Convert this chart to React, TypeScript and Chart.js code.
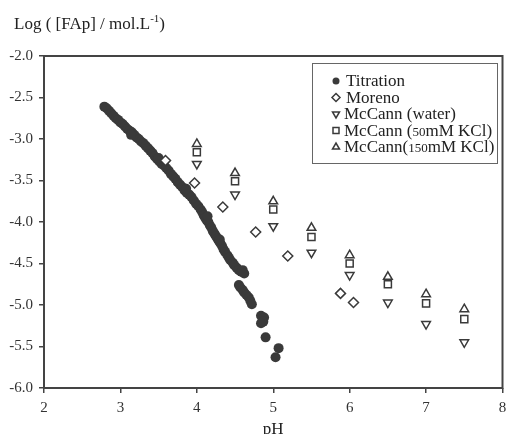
import React, { useEffect, useRef } from "react";
import { Chart, registerables } from "chart.js";

Chart.register(...registerables);

// ---- data ----
const titrationPH = [
  2.79, 2.82, 2.85, 2.88, 2.91, 2.94, 2.97, 3.0, 3.03, 3.06, 3.09, 3.12, 3.15, 3.18, 3.21, 3.24,
  3.27, 3.3, 3.33, 3.36, 3.39, 3.42, 3.45, 3.48, 3.51, 3.54, 3.57, 3.6, 3.63, 3.66, 3.69, 3.72,
  3.75, 3.78, 3.81, 3.84, 3.87, 3.9, 3.93, 3.96, 3.99, 4.02, 4.05, 4.07, 4.09, 4.11, 4.13, 4.15,
  4.17, 4.19, 4.21, 4.23, 4.25, 4.27, 4.29, 4.31, 4.33, 4.35, 4.37, 4.4, 4.42, 4.44, 4.47, 4.49,
  4.52, 4.55, 4.58, 4.6, 4.62, 4.55, 4.57, 4.6, 4.62, 4.65, 4.68, 4.7, 4.72, 4.84, 4.88, 4.87,
  4.84, 4.9, 5.07, 5.03, 3.14, 3.5, 3.86, 4.14, 4.3,
];
const titrationLog = [
  -2.61, -2.63, -2.66, -2.69, -2.72, -2.75, -2.77, -2.8, -2.82, -2.85, -2.88, -2.9, -2.92, -2.95,
  -2.98, -3.0, -3.03, -3.05, -3.08, -3.11, -3.14, -3.17, -3.21, -3.24, -3.27, -3.3, -3.32, -3.35,
  -3.38, -3.42, -3.45, -3.48, -3.52, -3.55, -3.58, -3.62, -3.65, -3.67, -3.7, -3.74, -3.78, -3.81,
  -3.85, -3.88, -3.92, -3.95, -3.98, -4.0, -4.04, -4.07, -4.11, -4.14, -4.17, -4.2, -4.23, -4.26,
  -4.29, -4.33, -4.36, -4.4, -4.43, -4.46, -4.49, -4.52, -4.55, -4.58, -4.6, -4.58, -4.62, -4.76,
  -4.79, -4.82, -4.85, -4.88, -4.91, -4.95, -4.99, -5.13, -5.15, -5.2, -5.22, -5.39, -5.52, -5.63,
  -2.95, -3.23, -3.6, -3.93, -4.21,
];

const morenoPH = [3.59, 3.97, 4.34, 4.77, 5.19, 5.88, 6.05];
const morenoLog = [-3.26, -3.53, -3.82, -4.12, -4.41, -4.86, -4.97];

const mccannPH = [4, 4.5, 5, 5.5, 6, 6.5, 7, 7.5];
const mccannWaterLog = [-3.3, -3.67, -4.05, -4.37, -4.64, -4.97, -5.23, -5.45];
const mccann50Log = [-3.16, -3.51, -3.85, -4.18, -4.5, -4.75, -4.98, -5.17];
const mccann150Log = [-3.06, -3.41, -3.75, -4.07, -4.4, -4.66, -4.87, -5.05];

const xTicks = [2, 3, 4, 5, 6, 7, 8];
const yTicks = [-2.0, -2.5, -3.0, -3.5, -4.0, -4.5, -5.0, -5.5, -6.0];

const seriesLabels = [
  "Titration",
  "Moreno",
  "McCann (water)",
  "McCann (50mM KCl)",
  "McCann(150mM KCl)",
];

// ---- style ----
const INK = "#3a3a3a";
const AXIS = "#444444";
const SERIF = "'Liberation Serif', 'Times New Roman', serif";

type Run = { t: string; size: number; dy?: number };

function drawRuns(ctx: CanvasRenderingContext2D, runs: Run[], x: number, y: number) {
  let cx = x;
  for (const r of runs) {
    ctx.font = `${r.size}px ${SERIF}`;
    ctx.fillText(r.t, cx, y + (r.dy || 0));
    cx += ctx.measureText(r.t).width;
  }
}

function drawMarker(
  ctx: CanvasRenderingContext2D,
  kind: string,
  x: number,
  y: number,
  r: number
) {
  ctx.beginPath();
  if (kind === "circle") {
    ctx.arc(x, y, r, 0, Math.PI * 2);
    ctx.fillStyle = INK;
    ctx.fill();
    return;
  }
  if (kind === "diamond") {
    ctx.moveTo(x, y - r);
    ctx.lineTo(x + r, y);
    ctx.lineTo(x, y + r);
    ctx.lineTo(x - r, y);
  } else if (kind === "down") {
    ctx.moveTo(x - r * 0.87, y - r * 0.5);
    ctx.lineTo(x + r * 0.87, y - r * 0.5);
    ctx.lineTo(x, y + r);
  } else if (kind === "up") {
    ctx.moveTo(x - r * 0.87, y + r * 0.5);
    ctx.lineTo(x + r * 0.87, y + r * 0.5);
    ctx.lineTo(x, y - r);
  } else if (kind === "square") {
    const s = r * 0.75;
    ctx.rect(x - s, y - s, 2 * s, 2 * s);
  }
  ctx.closePath();
  ctx.fillStyle = "#fff";
  ctx.fill();
  ctx.strokeStyle = INK;
  ctx.lineWidth = 1.5;
  ctx.stroke();
}

const overlayPlugin = {
  id: "overlay",
  afterDraw(chart: any) {
    const { ctx, chartArea: a } = chart;
    ctx.save();
    // frame
    ctx.strokeStyle = AXIS;
    ctx.lineWidth = 2;
    ctx.strokeRect(a.left, a.top, a.right - a.left, a.bottom - a.top);

    // y-axis title (top-left)
    ctx.fillStyle = "#222";
    ctx.textBaseline = "alphabetic";
    ctx.textAlign = "left";
    drawRuns(
      ctx,
      [
        { t: "Log ( [FAp] / mol.L", size: 17 },
        { t: "-1", size: 11, dy: -7 },
        { t: ")", size: 17 },
      ],
      14,
      29
    );

    // x-axis title
    ctx.font = `17px ${SERIF}`;
    ctx.textAlign = "center";
    ctx.fillText("pH", (a.left + a.right) / 2, 434);

    // legend
    ctx.lineWidth = 1;
    ctx.strokeStyle = "#666";
    ctx.strokeRect(312.5, 63.5, 185, 100);
    ctx.textAlign = "left";
    ctx.fillStyle = "#222";
    const kinds = ["circle", "diamond", "down", "square", "up"];
    const baselines = [86, 102.5, 119, 135.5, 152];
    const texts: Run[][] = [
      [{ t: seriesLabels[0], size: 17 }],
      [{ t: seriesLabels[1], size: 17 }],
      [{ t: seriesLabels[2], size: 17 }],
      [
        { t: "McCann (", size: 17 },
        { t: "50", size: 13 },
        { t: "mM KCl)", size: 17 },
      ],
      [
        { t: "McCann(", size: 17 },
        { t: "150", size: 13 },
        { t: "mM KCl)", size: 17 },
      ],
    ];
    kinds.forEach((k, i) => {
      const cy = baselines[i] - 5;
      drawMarker(ctx, k, 336, cy, k === "circle" ? 3.5 : 4);
      ctx.fillStyle = "#222";
      drawRuns(ctx, texts[i], k === "circle" || k === "diamond" ? 346 : 344, baselines[i]);
    });
    ctx.restore();
  },
};

export default function App() {
  const ref = useRef<HTMLCanvasElement>(null);

  useEffect(() => {
    if (!ref.current) return;
    const pts = (xs: number[], ys: number[]) => xs.map((x, i) => ({ x, y: ys[i] }));
    const hollow = {
      backgroundColor: "#ffffff",
      borderColor: INK,
      pointBorderWidth: 1.5,
      showLine: false,
    };
    const chart = new Chart(ref.current, {
      type: "scatter",
      data: {
        datasets: [
          {
            label: seriesLabels[1],
            data: pts(morenoPH, morenoLog),
            pointStyle: "rectRot",
            pointRadius: 5,
            ...hollow,
          },
          {
            label: seriesLabels[2],
            data: pts(mccannPH, mccannWaterLog),
            pointStyle: "triangle",
            rotation: 180,
            pointRadius: 5,
            ...hollow,
          },
          {
            label: seriesLabels[3],
            data: pts(mccannPH, mccann50Log),
            pointStyle: "rect",
            pointRadius: 5,
            ...hollow,
          },
          {
            label: seriesLabels[4],
            data: pts(mccannPH, mccann150Log),
            pointStyle: "triangle",
            pointRadius: 5,
            ...hollow,
          },
          {
            label: seriesLabels[0],
            data: pts(titrationPH, titrationLog),
            pointStyle: "circle",
            pointRadius: 5,
            backgroundColor: INK,
            borderColor: INK,
            pointBorderWidth: 0,
            showLine: false,
          },
        ],
      },
      options: {
        responsive: false,
        animation: false,
        events: [],
        layout: { padding: { top: 56, right: 5, left: 0, bottom: 0 } },
        plugins: {
          legend: { display: false },
          tooltip: { enabled: false },
          title: { display: false },
        },
        scales: {
          x: {
            type: "linear",
            min: xTicks[0],
            max: xTicks[xTicks.length - 1],
            afterBuildTicks: (s: any) => {
              s.ticks = xTicks.map((v) => ({ value: v }));
            },
            afterFit: (s: any) => {
              s.height = 46;
              s.paddingLeft = 0;
              s.paddingRight = 0;
            },
            grid: {
              drawOnChartArea: false,
              drawTicks: true,
              tickLength: 5,
              color: AXIS,
              lineWidth: 1.5,
            },
            border: { display: false },
            ticks: {
              color: "#333",
              padding: 6,
              font: { family: SERIF, size: 15 },
              callback: (v: any) => String(v),
            },
          },
          y: {
            type: "linear",
            min: yTicks[yTicks.length - 1],
            max: yTicks[0],
            afterBuildTicks: (s: any) => {
              s.ticks = yTicks.map((v) => ({ value: v }));
            },
            afterFit: (s: any) => {
              s.width = 44;
              s.paddingTop = 0;
              s.paddingBottom = 0;
            },
            grid: {
              drawOnChartArea: false,
              drawTicks: true,
              tickLength: 5,
              color: AXIS,
              lineWidth: 1.5,
            },
            border: { display: false },
            ticks: {
              color: "#333",
              padding: 6,
              font: { family: SERIF, size: 15 },
              callback: (v: any) => Number(v).toFixed(1),
            },
          },
        },
      },
      plugins: [overlayPlugin],
    } as any);
    return () => chart.destroy();
  }, []);

  return (
    <div style={{ position: "fixed", left: 0, top: 0, width: 509, height: 434, background: "#fff" }}>
      <canvas ref={ref} width={509} height={434} style={{ display: "block" }} />
    </div>
  );
}
